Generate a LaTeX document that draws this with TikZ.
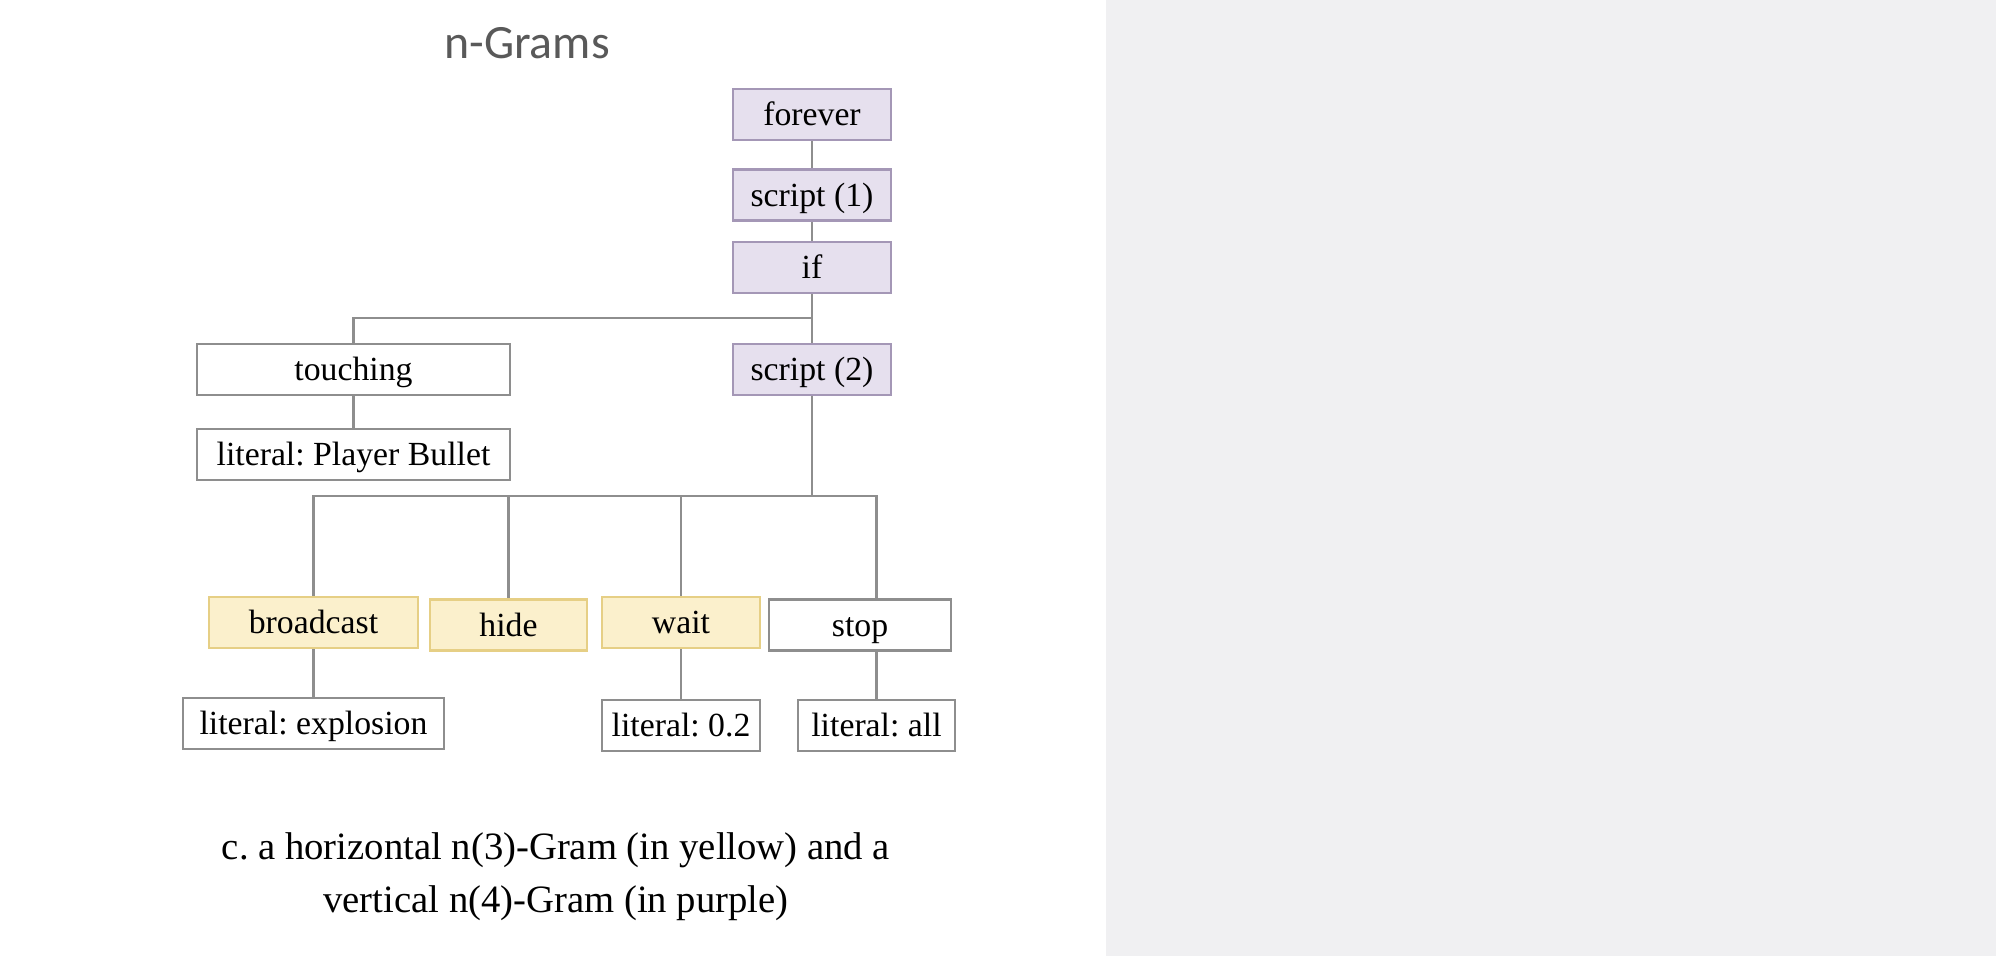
\documentclass[tikz,border=0pt]{standalone}
\usepackage{fontspec}
\setmainfont{Liberation Serif}
\newfontfamily\titlefont{Carlito}
\usepackage{xcolor}
\usetikzlibrary{positioning}
\definecolor{panelgray}{HTML}{F0F0F2}
\definecolor{purplefill}{HTML}{E6E0EE}
\definecolor{purpleline}{HTML}{A497B6}
\definecolor{yellowfill}{HTML}{FBF0CC}
\definecolor{yellowline}{HTML}{E6CF85}
\definecolor{boxline}{HTML}{8E8E8E}
\definecolor{titlegray}{HTML}{595959}
\frenchspacing

\begin{document}
\begin{tikzpicture}[x=0.01cm,y=-0.01cm,
  gbox/.style={draw=boxline,fill=white,line width=0.6pt,inner sep=0pt,minimum height=0.51cm,text height=7.5pt,text depth=1pt,font=\fontsize{9.6}{11}\selectfont},
  pbox/.style={gbox,draw=purpleline,fill=purplefill},
  ybox/.style={gbox,draw=yellowline,fill=yellowfill},
  link/.style={draw=boxline,line width=0.6pt}]
\useasboundingbox (0,0) rectangle (1996,956);
\fill[panelgray] (1106,0) rectangle (1996,956);
\node[font=\titlefont\fontsize{13.6}{16}\selectfont,text=titlegray] (title) at (527,43) {n-Grams};
% vertical chain
\node[pbox,minimum width=1.58cm] (forever) at (812,114.5) {forever};
\node[pbox,minimum width=1.58cm] (script1) at (812,195) {script (1)};
\node[pbox,minimum width=1.58cm] (if) at (812,267.5) {if};
\node[pbox,minimum width=1.58cm] (script2) at (812,369.5) {script (2)};
\node[gbox,minimum width=3.13cm] (touching) at (353.5,369.5) {touching};
\node[gbox,minimum width=3.13cm] (player) at (353.5,454.5) {literal: Player Bullet};
% second row
\node[ybox,minimum width=2.09cm] (broadcast) at (313.5,622.5) {broadcast};
\node[ybox,minimum width=1.57cm] (hide) at (508.5,625) {hide};
\node[ybox,minimum width=1.58cm] (wait) at (681,622.5) {wait};
\node[gbox,minimum width=1.82cm] (stop) at (860,625) {stop};
\node[gbox,minimum width=2.61cm] (explosion) at (313.5,723.5) {literal: explosion};
\node[gbox,minimum width=1.58cm] (delay) at (681,725.5) {literal: 0.2};
\node[gbox,minimum width=1.57cm] (all) at (876.5,725.5) {literal: all};
% connectors
\coordinate (ifbus) at (812,318);
\coordinate (bus) at (812,496);
\draw[link] (forever) -- (script1);
\draw[link] (script1) -- (if);
\draw[link] (if) -- (script2);
\draw[link] (ifbus) -| (touching);
\draw[link] (touching) -- (player);
\draw[link] (script2) -- (bus);
\draw[link] (bus) -| (broadcast);
\draw[link] (bus) -| (hide);
\draw[link] (bus) -| (wait);
\draw[link] (bus) -| (all |- stop.north);
\draw[link] (broadcast) -- (explosion);
\draw[link] (wait) -- (delay);
\draw[link] (all |- stop.south) -- (all);
% caption
\node[align=center,font=\fontsize{11}{15}\selectfont] (caption) at (556,877) {c. a horizontal n(3)-Gram (in yellow) and a\\vertical n(4)-Gram (in purple)};
\end{tikzpicture}
\end{document}
